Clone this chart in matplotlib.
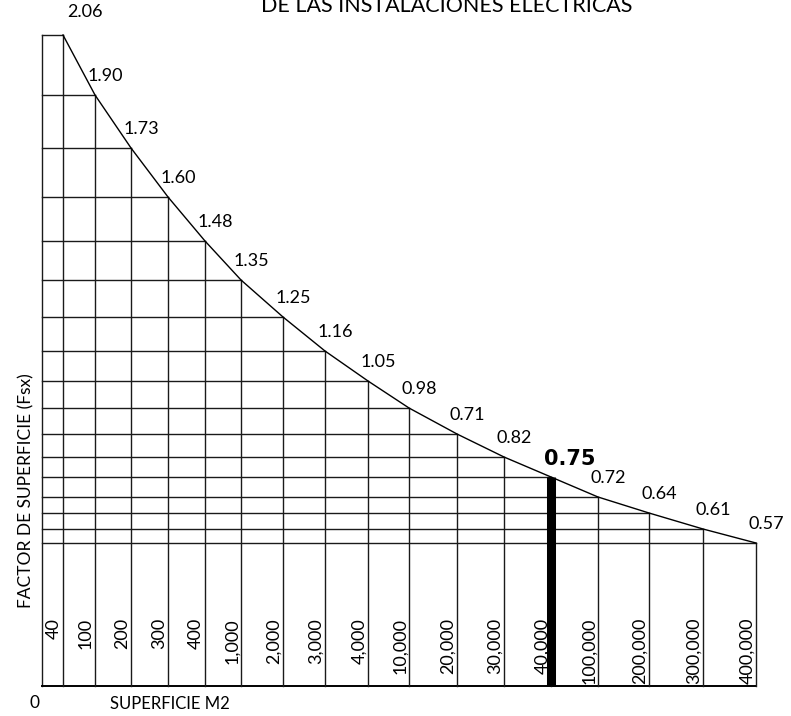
import matplotlib
matplotlib.use("Agg")
import matplotlib.pyplot as plt

# column labels (superficie m2) and factor labels written along the curve
areas = ["40", "100", "200", "300", "400", "1,000", "2,000", "3,000", "4,000",
         "10,000", "20,000", "30,000", "40,000", "100,000", "200,000",
         "300,000", "400,000"]
factors = ["2.06", "1.90", "1.73", "1.60", "1.48", "1.35", "1.25", "1.16", "1.05",
           "0.98", "0.71", "0.82", "0.75", "0.72", "0.64", "0.61", "0.57"]
# right edge of every column and curve height there (drawing units)
col_edge = [21, 53, 89, 126, 163, 199, 241, 283, 326, 367, 415, 462, 509,
            556, 607, 661, 714]
curve_h = [651, 591, 538, 489, 445, 406, 369, 335, 305, 278, 252, 229, 209,
           189, 173, 157, 143]
selected = 12  # 40,000 m2 -> 0.75

plt.rcParams['font.family'] = ['Lato', 'DejaVu Sans']

fig = plt.figure(figsize=(7.91, 7.16), dpi=100)
ax = fig.add_axes([0, 0, 1, 1])
ax.set_xlim(-42, 749)
ax.set_ylim(-30, 686)
ax.axis('off')

lc = '#1a1a1a'
# left border and baseline
ax.plot([0, 0], [0, curve_h[0]], color=lc, lw=1.0)
ax.plot([0, col_edge[-1]], [0, 0], color='black', lw=1.4)

# grid: vertical at each column edge, horizontal at each curve height
for x, h in zip(col_edge, curve_h):
    ax.plot([x, x], [0, h], color=lc, lw=1.0)
    ax.plot([0, x], [h, h], color=lc, lw=1.0)

# the curve
ax.plot(col_edge, curve_h, color='black', lw=1.0)

# highlighted column
ax.plot([col_edge[selected]] * 2, [0, curve_h[selected]], color='black',
        lw=6.5, solid_capstyle='butt')

# factor labels
for i, (x, h, f) in enumerate(zip(col_edge, curve_h, factors)):
    if i == 0:
        ax.text(x + 22, h + 23, f, ha='center', va='center', fontsize=13)
    elif i == selected:
        ax.text(x + 19, h + 18, f, ha='center', va='center', fontsize=15,
                fontweight='bold', family='DejaVu Sans')
    else:
        ax.text(x + 10, h + 19, f, ha='center', va='center', fontsize=13)

# area labels inside columns
for x, a in zip(col_edge, areas):
    ax.text(x - 9, 68, a, rotation=90, ha='center', va='top', fontsize=13)

ax.text(405, 674, "DE LAS INSTALACIONES ELECTRICAS", ha='center',
        va='baseline', fontsize=15.5)
ax.text(-16, 195, "FACTOR DE SUPERFICIE (Fsx)", rotation=90, ha='center',
        va='center', fontsize=12.5)
ax.text(128, -18, "SUPERFICIE M2", ha='center', va='center', fontsize=12)
ax.text(-8, -17, "0", ha='center', va='center', fontsize=12.5)

fig.savefig("out.png", dpi=100)
